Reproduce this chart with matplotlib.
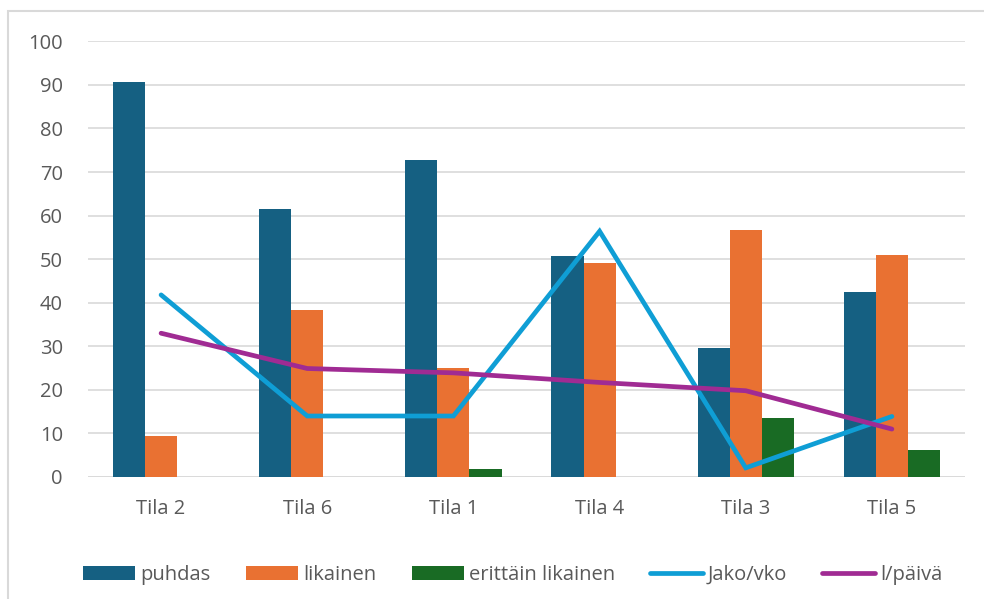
import numpy as np
import matplotlib.pyplot as plt
from matplotlib.patches import Rectangle

# ----- data -----
tilat = ['Tila 2', 'Tila 6', 'Tila 1', 'Tila 4', 'Tila 3', 'Tila 5']
puhdas = [90.7, 61.6, 72.8, 50.8, 29.6, 42.5]
likainen = [9.3, 38.3, 25.0, 49.2, 56.7, 51.0]
erittain = [0, 0, 1.9, 0, 13.5, 6.2]
jako_vko = [41.8, 14.0, 14.0, 56.4, 2.1, 13.9]
l_paiva = [33.0, 24.9, 23.9, 21.7, 19.8, 11.0]

plt.rcParams['font.family'] = ['Open Sans', 'DejaVu Sans']

fig = plt.figure(figsize=(9.84, 5.99), dpi=100)
ax = fig.add_axes([88 / 984, 1 - 477 / 599, (965 - 88) / 984, (477 - 41.3) / 599])

# reunus
fig.patches.append(Rectangle((8 / 984, 1 - 11 / 599 - 2), 2, 2, transform=fig.transFigure,
                             fill=False, edgecolor='#d9d9d9', linewidth=1.5))

x = np.arange(len(tilat))
w = 0.22
b1 = ax.bar(x - w, puhdas, w, color='#156082', label='puhdas', zorder=2)
b2 = ax.bar(x, likainen, w, color='#E97132', label='likainen', zorder=2)
b3 = ax.bar(x + w, erittain, w, color='#196B24', label='erittäin likainen', zorder=2)
l1, = ax.plot(x, jako_vko, color='#0F9ED5', lw=3.4, label='Jako/vko', zorder=3,
              solid_capstyle='round', solid_joinstyle='miter')
l2, = ax.plot(x, l_paiva, color='#A02B93', lw=3.4, label='l/päivä', zorder=3,
              solid_capstyle='round', solid_joinstyle='miter')

ax.set_xlim(-0.5, len(tilat) - 0.5)
ax.set_ylim(0, 100)
ax.set_yticks(range(0, 101, 10))
ax.set_xticks(x)
ax.set_xticklabels(tilat)
ax.yaxis.grid(True, color='#d9d9d9', lw=1.2, zorder=0)
for s in ax.spines.values():
    s.set_visible(False)
ax.axhline(0, color='#d9d9d9', lw=1.2, zorder=1)
ax.tick_params(axis='both', length=0, labelsize=14.5, labelcolor='#595959')
ax.tick_params(axis='y', pad=18)
ax.tick_params(axis='x', pad=16)

leg = ax.legend([b1, b2, b3, l1, l2], ['puhdas', 'likainen', 'erittäin likainen', 'Jako/vko', 'l/päivä'],
                loc='center', bbox_to_anchor=(0.484, -0.225), ncol=5, frameon=False,
                fontsize=14.5, handlelength=2.6, handleheight=0.65, columnspacing=1.75,
                handletextpad=0.25, borderaxespad=0)
for t in leg.get_texts():
    t.set_color('#595959')

fig.savefig('out.png', dpi=100)
